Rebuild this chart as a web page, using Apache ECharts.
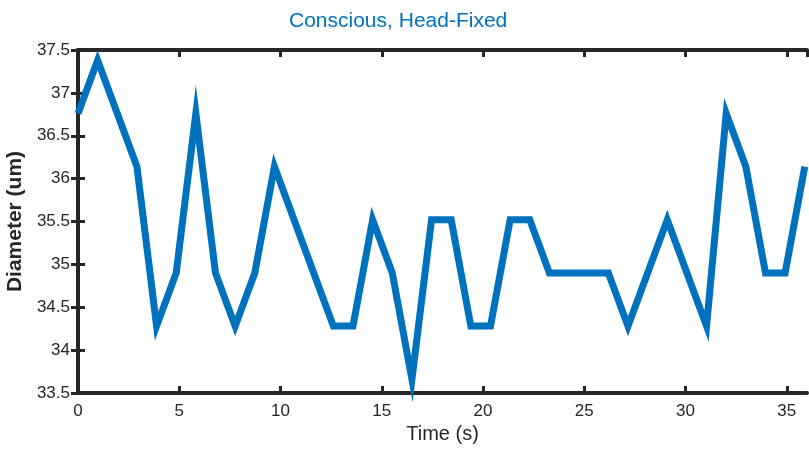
<!DOCTYPE html>
<html>
<head>
<meta charset="utf-8">
<script src="https://cdn.jsdelivr.net/npm/echarts@6/dist/echarts.min.js"></script>
<style>html,body{margin:0;padding:0;background:#fff;}#c{width:809px;height:456px;}</style>
</head>
<body>
<div id="c"></div>
<script>
const titleText = 'Conscious, Head-Fixed';
const xLabel = 'Time (s)';
const yLabel = 'Diameter (um)';
const timeS = [0, 0.97, 1.94, 2.91, 3.88, 4.85, 5.82, 6.79, 7.76, 8.73, 9.7, 10.67, 11.64, 12.61, 13.58, 14.55, 15.52, 16.49, 17.46, 18.43, 19.4, 20.37, 21.34, 22.31, 23.28, 24.25, 25.22, 26.19, 27.16, 28.13, 29.1, 30.07, 31.04, 32.01, 32.98, 33.95, 34.92, 35.89];
const diameter = [36.76, 37.38, 36.76, 36.14, 34.28, 34.9, 36.76, 34.9, 34.28, 34.9, 36.14, 35.52, 34.9, 34.28, 34.28, 35.52, 34.9, 33.66, 35.52, 35.52, 34.28, 34.28, 35.52, 35.52, 34.9, 34.9, 34.9, 34.9, 34.28, 34.9, 35.52, 34.9, 34.28, 36.76, 36.14, 34.9, 34.9, 36.14];
const xRange = [0, 36];
const yRange = [33.5, 37.5];
const xStep = 5;
const yStep = 0.5;

const axisColor = '#262626';
const font = '"Liberation Sans", Arial, Helvetica, sans-serif';
const chart = echarts.init(document.getElementById('c'));
const baseAxisLine = {show: true, lineStyle: {color: axisColor, width: 4}};
const tick = {show: true, inside: true, length: 7, lineStyle: {color: axisColor, width: 3}};
chart.setOption({
  animation: false,
  backgroundColor: '#fff',
  title: {
    text: titleText, left: 284, top: 6,
    textStyle: {color: '#0072BD', fontFamily: font, fontWeight: 'normal', fontSize: 21}
  },
  grid: {left: 78, right: 2, top: 50, bottom: 63, containLabel: false, outerBoundsMode: 'none'},
  xAxis: [{
    type: 'value', min: xRange[0], max: xRange[1], interval: xStep,
    name: xLabel, nameLocation: 'middle', nameGap: 31,
    nameTextStyle: {color: axisColor, fontFamily: font, fontSize: 20},
    axisLine: baseAxisLine, axisTick: tick,
    axisLabel: {color: axisColor, fontFamily: font, fontSize: 17, margin: 10, showMaxLabel: false},
    splitLine: {show: false}
  }, {
    type: 'value', position: 'top', min: xRange[0], max: xRange[1], interval: xStep,
    axisLine: baseAxisLine, axisTick: tick, axisLabel: {show: false}, splitLine: {show: false}
  }],
  yAxis: [{
    type: 'value', min: yRange[0], max: yRange[1], interval: yStep,
    name: yLabel, nameLocation: 'middle', nameGap: 40, nameRotate: 90,
    nameTextStyle: {color: axisColor, fontFamily: font, fontSize: 21, fontWeight: 'bold'},
    axisLine: baseAxisLine, axisTick: tick,
    axisLabel: {color: axisColor, fontFamily: font, fontSize: 17, margin: 8},
    splitLine: {show: false}
  }, {
    type: 'value', position: 'right', min: yRange[0], max: yRange[1], interval: yStep,
    axisLine: baseAxisLine, axisTick: tick, axisLabel: {show: false}, splitLine: {show: false}
  }],
  series: [{
    type: 'line',
    data: timeS.map((t, i) => [t, diameter[i]]),
    showSymbol: false, symbol: 'none', clip: false,
    lineStyle: {color: '#0072BD', width: 7, join: 'miter', miterLimit: 10, cap: 'butt'},
    z: 1
  }]
});
</script>
</body>
</html>
